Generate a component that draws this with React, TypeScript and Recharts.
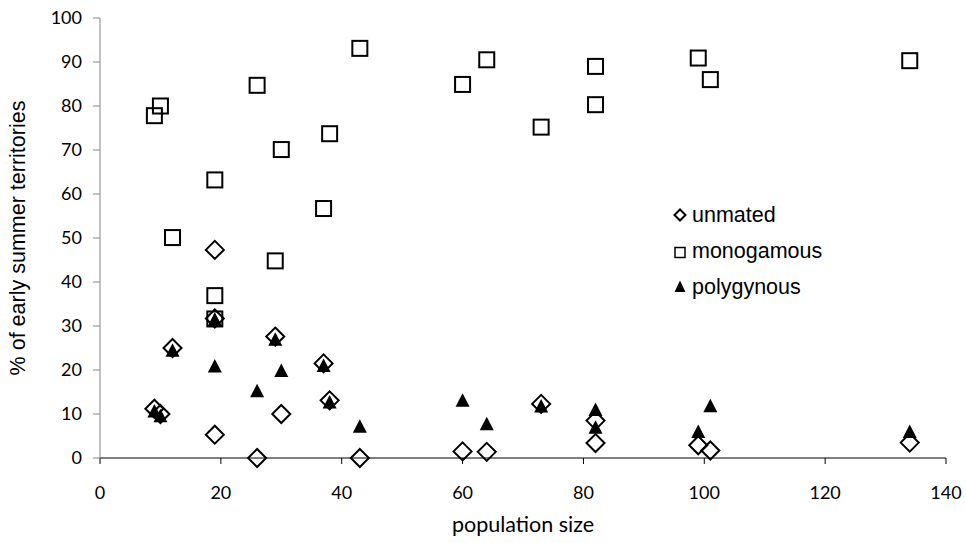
import { ScatterChart, Scatter, XAxis, YAxis, Legend } from 'recharts'

// one entry per population (x = population size)
const populationSize = [9, 10, 12, 19, 19, 19, 26, 29, 30, 37, 38, 43, 60, 64, 73, 82, 82, 99, 101, 134]
const unmated = [11.2, 10.0, 25.0, 5.3, 31.7, 47.3, 0, 27.6, 10.0, 21.5, 13.1, 0, 1.5, 1.4, 12.3, 3.4, 8.5, 2.9, 1.7, 3.5]
const monogamous = [77.8, 80.0, 50.1, 63.2, 36.9, 31.6, 84.7, 44.8, 70.1, 56.7, 73.7, 93.1, 84.9, 90.5, 75.2, 89.0, 80.3, 90.9, 86.0, 90.3]
const polygynous = [10.7, 9.6, 24.5, 31.5, 31.4, 20.9, 15.3, 27.0, 19.9, 21.0, 12.7, 7.2, 13.1, 7.8, 11.8, 7.0, 11.0, 6.0, 11.9, 6.0]

const xTicks = [0, 20, 40, 60, 80, 100, 120, 140]
const yTicks = [0, 10, 20, 30, 40, 50, 60, 70, 80, 90, 100]
const seriesNames = ['unmated', 'monogamous', 'polygynous']

const toPoints = (values: number[]) => populationSize.map((x, i) => ({ x, y: values[i] }))

const tickFont = { fill: '#000', fontSize: 18, fontFamily: 'Lato, sans-serif' }

function Diamond({ cx, cy, r = 9, w = 2 }: any) {
  return <path d={`M${cx},${cy - r}L${cx + r},${cy}L${cx},${cy + r}L${cx - r},${cy}Z`} fill="none" stroke="#000" strokeWidth={w} />
}

function Square({ cx, cy, s = 7.5, w = 2 }: any) {
  return <rect x={cx - s} y={cy - s} width={s * 2} height={s * 2} fill="none" stroke="#000" strokeWidth={w} />
}

function Triangle({ cx, cy, hw = 7, up = 7, down = 6.5 }: any) {
  return <path d={`M${cx},${cy - up}L${cx + hw},${cy + down}L${cx - hw},${cy + down}Z`} fill="#000" />
}

function LegendBox() {
  const text = { fontSize: 21.5, fontFamily: '"Liberation Sans", Arial, sans-serif', fill: '#000' }
  return (
    <svg width={200} height={110} style={{ display: 'block' }}>
      <Diamond cx={12} cy={17} r={5.5} w={2} />
      <text x={24} y={24} {...text}>{seriesNames[0]}</text>
      <Square cx={12} cy={54.5} s={5} w={1.5} />
      <text x={24} y={60} {...text}>{seriesNames[1]}</text>
      <Triangle cx={12} cy={89} hw={5.5} up={6.5} down={5} />
      <text x={24} y={96} {...text}>{seriesNames[2]}</text>
    </svg>
  )
}

export default function App() {
  return (
    <div style={{ position: 'absolute', left: 0, top: 0 }}>
      <ScatterChart width={966} height={543} margin={{ top: 18, right: 20, bottom: 0, left: 0 }}>
        <XAxis
          type="number"
          dataKey="x"
          domain={[0, 140]}
          ticks={xTicks}
          interval={0}
          tick={tickFont}
          tickSize={6}
          tickMargin={22}
          height={85}
          axisLine={{ stroke: '#000' }}
          tickLine={{ stroke: '#000' }}
          label={{
            value: 'population size',
            position: 'insideBottom',
            offset: 11,
            style: { fill: '#000', fontSize: 21.5, fontFamily: 'Lato, sans-serif' },
          }}
        />
        <YAxis
          type="number"
          dataKey="y"
          domain={[0, 100]}
          ticks={yTicks}
          interval={0}
          tick={tickFont}
          tickSize={7}
          tickMargin={11}
          width={100}
          axisLine={{ stroke: '#868686' }}
          tickLine={{ stroke: '#868686' }}
          label={{
            value: '% of early summer territories',
            angle: -90,
            position: 'insideLeft',
            offset: 17,
            style: { fill: '#000', fontSize: 21.5, fontFamily: '"Liberation Sans", Arial, sans-serif', textAnchor: 'middle' },
          }}
        />
        <Legend
          layout="vertical"
          align="center"
          verticalAlign="middle"
          wrapperStyle={{ position: 'absolute', left: 668, top: 198, width: 200, height: 110 }}
          content={() => <LegendBox />}
        />
        <Scatter name={seriesNames[0]} data={toPoints(unmated)} isAnimationActive={false} shape={(p: any) => <Diamond cx={p.cx} cy={p.cy} />} />
        <Scatter name={seriesNames[1]} data={toPoints(monogamous)} isAnimationActive={false} shape={(p: any) => <Square cx={p.cx} cy={p.cy} />} />
        <Scatter name={seriesNames[2]} data={toPoints(polygynous)} isAnimationActive={false} shape={(p: any) => <Triangle cx={p.cx} cy={p.cy} />} />
      </ScatterChart>
    </div>
  )
}
